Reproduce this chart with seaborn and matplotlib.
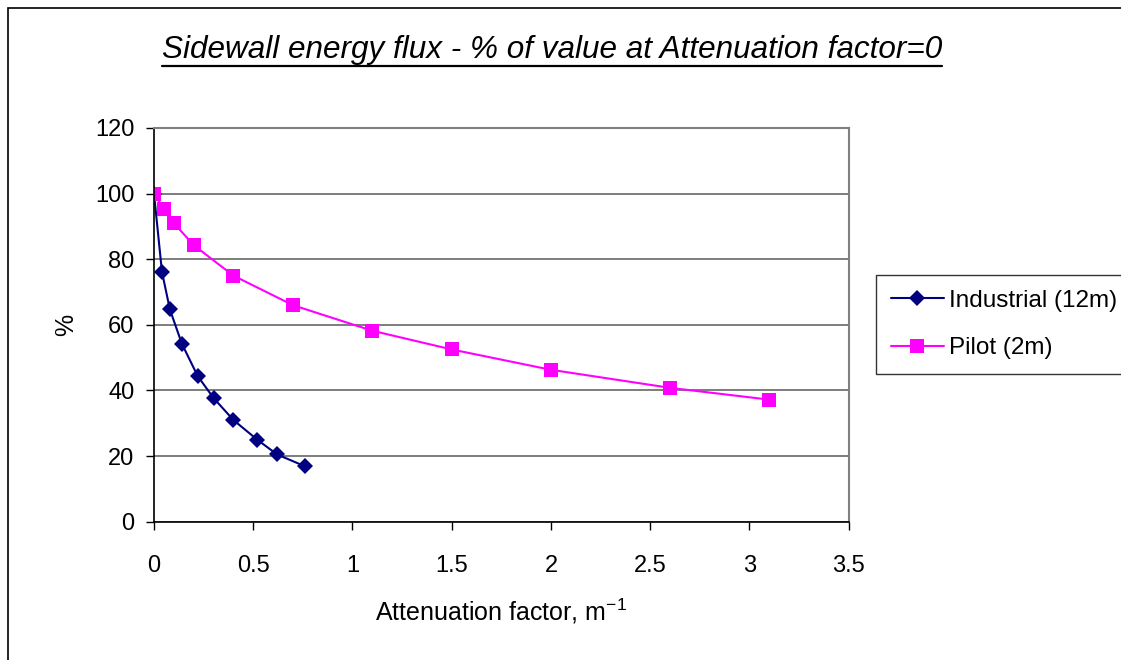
import matplotlib
matplotlib.use("Agg")
import matplotlib.pyplot as plt
import seaborn as sns
import pandas as pd
from matplotlib.patches import Rectangle
from matplotlib.lines import Line2D

# ---- data ----
industrial_x = [0, 0.04, 0.08, 0.14, 0.22, 0.30, 0.40, 0.52, 0.62, 0.76]
industrial_y = [100, 76.2, 64.7, 54.3, 44.4, 37.7, 31.0, 25.0, 20.5, 16.9]
pilot_x = [0, 0.05, 0.1, 0.2, 0.4, 0.7, 1.1, 1.5, 2.0, 2.6, 3.1]
pilot_y = [100, 95.3, 91.0, 84.3, 75.0, 66.0, 58.2, 52.5, 46.3, 40.8, 37.2]
series_names = ["Industrial (12m)", "Pilot (2m)"]
x_ticks = [0, 0.5, 1, 1.5, 2, 2.5, 3, 3.5]
x_tick_labels = ["0", "0.5", "1", "1.5", "2", "2.5", "3", "3.5"]
y_ticks = [0, 20, 40, 60, 80, 100, 120]
title_text = "Sidewall energy flux - % of value at Attenuation factor=0"
x_label = "Attenuation factor, m$^{\\mathregular{-1}}$"
y_label = "%"

df = pd.concat([
    pd.DataFrame({"x": industrial_x, "y": industrial_y, "series": series_names[0]}),
    pd.DataFrame({"x": pilot_x, "y": pilot_y, "series": series_names[1]}),
], ignore_index=True)

sns.set_theme(style="white")
plt.rcParams["font.family"] = ["Liberation Sans", "DejaVu Sans"]
plt.rcParams["text.color"] = "black"
plt.rcParams["axes.labelcolor"] = "black"
plt.rcParams["mathtext.fontset"] = "custom"
plt.rcParams["mathtext.rm"] = "Liberation Sans"
plt.rcParams["axes.unicode_minus"] = False

fig = plt.figure(figsize=(11.21, 6.60), dpi=100)
W, H = 1121, 660
ax = fig.add_axes([154 / W, 1 - 521.7 / H, (848.7 - 154) / W, (521.7 - 128) / H])

colors = {series_names[0]: "#000080", series_names[1]: "#FF00FF"}
markers = {series_names[0]: "D", series_names[1]: "s"}
msizes = {series_names[0]: 8.5, series_names[1]: 9.5}
sns.lineplot(data=df, x="x", y="y", hue="series", style="series",
             palette=colors, markers=markers, dashes=False, sort=False,
             estimator=None, ax=ax, linewidth=1.5, markeredgewidth=0,
             legend=False)
for ln in ax.get_lines():
    ln.set_markersize(8.5 if ln.get_marker() == "D" else 9.5)

ax.set_xlim(0, 3.5)
ax.set_ylim(0, 120)
ax.set_xticks(x_ticks)
ax.set_xticklabels(x_tick_labels)
ax.set_yticks(y_ticks)
ax.tick_params(axis="both", labelsize=17, direction="out", length=6, width=1,
               color="black", labelcolor="black", bottom=True, left=True)
ax.tick_params(axis="x", pad=18)
ax.tick_params(axis="y", pad=8)
ax.grid(True, axis="y", color="#000000", linewidth=1.3, alpha=0.55)
ax.grid(False, axis="x")
ax.set_axisbelow(True)
for s in ["left", "bottom"]:
    ax.spines[s].set_color("black")
    ax.spines[s].set_linewidth(1.2)
for s in ["top", "right"]:
    ax.spines[s].set_color("#808080")
    ax.spines[s].set_linewidth(1.5)

ax.set_xlabel(x_label, fontsize=18, labelpad=14)
ax.set_ylabel(y_label, fontsize=18, labelpad=12)

# title with underline
t = fig.text(552 / W, 1 - 50 / H, title_text, ha="center", va="center",
             fontsize=22.7, style="italic")

# legend
handles = [Line2D([], [], color=colors[n], marker=markers[n],
                  markersize=msizes[n], markeredgewidth=0, linewidth=1.5)
           for n in series_names]
leg = fig.legend(handles, series_names, loc="upper left",
                 bbox_to_anchor=(876 / W, 1 - 275 / H), fontsize=17.5,
                 frameon=True, fancybox=False, borderpad=0.6,
                 handlelength=2.2, handletextpad=0.2, labelspacing=1.05,
                 borderaxespad=0)
leg.get_frame().set_edgecolor("black")
leg.get_frame().set_linewidth(1.0)

# figure border
fig.patches.append(Rectangle((8 / W, -0.05), 1.2, 1.05 - 8 / H,
                             transform=fig.transFigure, fill=False,
                             edgecolor="black", linewidth=1.2))

fig.canvas.draw()
r = fig.canvas.get_renderer()
bb = t.get_window_extent(renderer=r)
fig.add_artist(Line2D([bb.x0 / W, bb.x1 / W], [(bb.y0 - 1) / H, (bb.y0 - 1) / H],
                      transform=fig.transFigure, color="black", linewidth=1.6))

fig.savefig("out.png", dpi=100)
